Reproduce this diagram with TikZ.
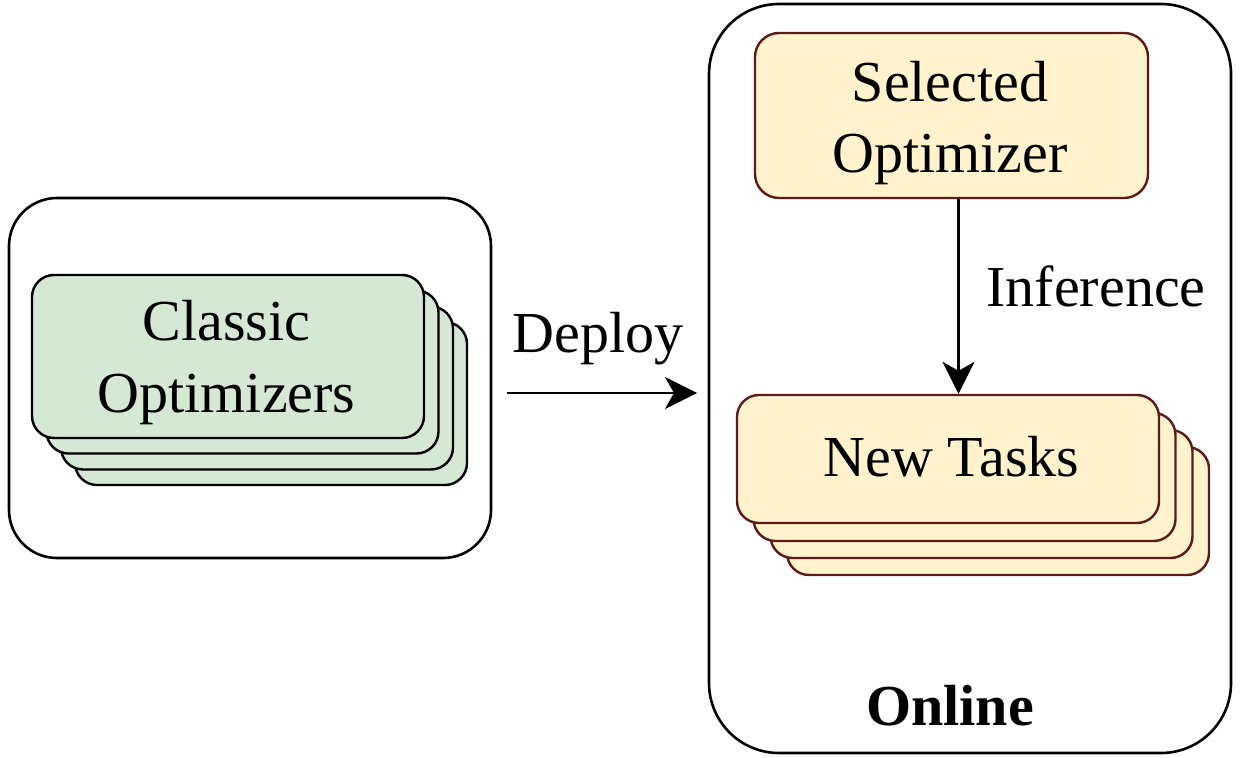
\documentclass[tikz,border=0pt]{standalone}
\usepackage{fontspec}
\setmainfont{Liberation Serif}
\usetikzlibrary{arrows.meta}
\definecolor{gfill}{HTML}{D5E8D4}
\definecolor{yfill}{HTML}{FFF2CC}
\definecolor{ydraw}{HTML}{5C1A1A}
\tikzset{
  outerbox/.style={draw=black, line width=1.3pt, fill=white, inner sep=0pt},
  gcard/.style={draw=black, line width=1.2pt, fill=gfill, rounded corners=11pt, inner sep=0pt,
    minimum width=196pt, minimum height=81.5pt},
  ycard/.style={draw=ydraw, line width=1.2pt, fill=yfill, rounded corners=11pt, inner sep=0pt,
    minimum width=211pt, minimum height=64pt},
  txt/.style={inner sep=0pt, anchor=base, font=\fontsize{29}{36}\selectfont},
  arr/.style={line width=1.3pt, -{Stealth[length=16pt,width=16pt,inset=4.5pt]}}
}
\begin{document}
\begin{tikzpicture}[x=0.5pt,y=-0.5pt]
\useasboundingbox (0,0) rectangle (1246,758);
% outer containers
\node[outerbox, rounded corners=24pt, minimum width=241pt, minimum height=180pt] (left) at (250,378) {};
\node[outerbox, rounded corners=35pt, minimum width=261pt, minimum height=374.5pt] (right) at (970,378.5) {};
% green stack
\node[gcard] (g4) at (271,403.5) {};
\node[gcard] (g3) at (257,388) {};
\node[gcard] (g2) at (242.5,372) {};
\node[gcard] (g1) at (228,356.5) {};
\node[txt] (g1a) at (226.5,341) {Classic};
\node[txt] (g1b) at (226.5,413) {Optimizers};
% yellow stack
\node[ycard] (y4) at (998,511) {};
\node[ycard] (y3) at (981.5,494) {};
\node[ycard] (y2) at (964.5,477) {};
\node[ycard] (nt) at (948,459) {};
\node[txt] (nta) at (951.5,477) {New Tasks};
% selected optimizer
\node[ycard, rounded corners=12pt, minimum width=196.5pt, minimum height=82.5pt] (sel) at (951.5,115.5) {};
\node[txt] (sela) at (950,102) {Selected};
\node[txt] (selb) at (950,173) {Optimizer};
% deploy arrow
\coordinate (d1) at (507,393);
\coordinate (d2) at (697,393);
\draw[arr] (d1) -- (d2);
\node[txt] (deploy) at (598,353) {Deploy};
% inference arrow
\coordinate (ix) at (958.5,0);
\draw[arr] (sel.south -| ix) -- (nt.north -| ix);
\node[txt] (inf) at (1096,307) {Inference};
% online label
\node[txt, font=\fontsize{29}{36}\selectfont\bfseries] (online) at (950,725) {Online};
\end{tikzpicture}
\end{document}
